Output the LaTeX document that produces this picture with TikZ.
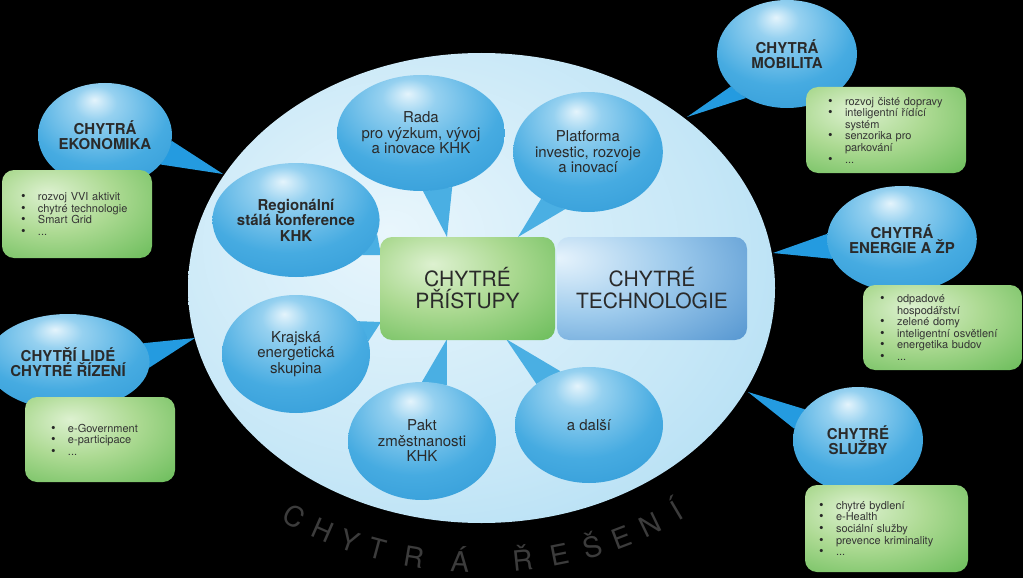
\documentclass[tikz,border=0pt]{standalone}
\usepackage{fontspec}
\setmainfont{TeX Gyre Heros}
\usetikzlibrary{shapes.geometric}
\pgfdeclarelayer{back}
\pgfdeclarelayer{tails}
\pgfsetlayers{back,tails,main}

\definecolor{bubA}{HTML}{E4F4FC}
\definecolor{bubB}{HTML}{96D1F0}
\definecolor{bubC}{HTML}{46ABE1}
\definecolor{bubD}{HTML}{2994D3}
\definecolor{bigA}{HTML}{E9F6FC}
\definecolor{bigB}{HTML}{C6E7F7}
\definecolor{bigC}{HTML}{9AD3EF}
\definecolor{grA}{HTML}{DDF1D0}
\definecolor{grB}{HTML}{ADDA93}
\definecolor{grC}{HTML}{69BC59}
\definecolor{grD}{HTML}{45A643}
\definecolor{blA}{HTML}{E6F3FC}
\definecolor{blB}{HTML}{9DCAEC}
\definecolor{blC}{HTML}{4A8ECC}
\definecolor{blD}{HTML}{2A6BB2}
\definecolor{tailA}{HTML}{249BE0}
\definecolor{tailB}{HTML}{4AAFE3}
\definecolor{txt}{HTML}{2A2A2A}
\definecolor{itx}{HTML}{353535}
\definecolor{lettc}{HTML}{3C3C3C}

\pgfdeclareradialshading{bubbleshade}{\pgfpoint{-4bp}{17bp}}{color(0bp)=(bubA); color(8bp)=(bubB); color(26bp)=(bubC); color(50bp)=(bubD); color(80bp)=(bubD)}
\pgfdeclareradialshading{bigshade}{\pgfpoint{-8bp}{6bp}}{color(0bp)=(bigA); color(25bp)=(bigB); color(50bp)=(bigC); color(80bp)=(bigC)}
\pgfdeclareradialshading{greenshade}{\pgfpoint{-10bp}{12bp}}{color(0bp)=(grA); color(20bp)=(grB); color(45bp)=(grC); color(62bp)=(grD); color(100bp)=(grD)}
\pgfdeclareradialshading{blueshade}{\pgfpoint{-25bp}{15bp}}{color(0bp)=(blA); color(25bp)=(blB); color(55bp)=(blC); color(75bp)=(blD); color(110bp)=(blD)}

\newcommand\bulletdot{{\fontsize{13}{11}\selectfont\textcolor{black!85}{\textbullet}}}
\newcommand\itemline[1]{\makebox[17pt][l]{\bulletdot}#1}
\newcommand\contline[1]{\hspace*{17pt}#1}

\begin{document}
\begin{tikzpicture}[x=1pt,y=-1pt,
  bub/.style={ellipse, shading=bubbleshade, inner sep=0pt, align=center, text=txt},
  outerbub/.style={bub, font=\fontsize{15}{15}\selectfont\bfseries},
  innerbub/.style={bub, minimum width=148, minimum height=116, font=\fontsize{15}{15.5}\selectfont},
  itembox/.style={rectangle, rounded corners=12pt, shading=greenshade, align=left, inner ysep=0pt, text=itx, font=\fontsize{11}{11.6}\selectfont},
  tailout/.style={fill=tailA},
  tailin/.style={fill=tailB},
  hub/.style={rectangle, rounded corners=12pt, inner sep=0pt, align=center, text=txt, minimum height=103, font=\fontsize{21}{22}\selectfont},
  letter/.style={text=lettc, font=\fontsize{28}{28}\selectfont, inner sep=0pt, anchor=base}
]
\useasboundingbox (0,0) rectangle (1023,578);
\begin{pgfonlayer}{back}
\fill[black] (0,0) rectangle (1023,578);
\node[ellipse, shading=bigshade, minimum width=587, minimum height=470, inner sep=0pt] (sol) at (481.5,288) {};
\end{pgfonlayer}

% outer bubbles
\node[outerbub, minimum width=134, minimum height=104] (eko) at (105,135) {CHYTRÁ\\EKONOMIKA};
\node[outerbub, minimum width=134, minimum height=96] (lide) at (68,362) {CHYTŘÍ LIDÉ\\CHYTRÉ ŘÍZENÍ};
\node[outerbub, minimum width=140, minimum height=108] (mob) at (787,54) {CHYTRÁ\\MOBILITA};
\node[outerbub, minimum width=138, minimum height=106] (ene) at (902,239) {CHYTRÁ\\ENERGIE A ŽP};
\node[outerbub, minimum width=130, minimum height=106] (sluz) at (858,440) {CHYTRÉ\\SLUŽBY};

% item boxes
\node[itembox, text width=112, inner xsep=19, minimum height=88] (ekoList) at (77,214)
 {\itemline{rozvoj VVI aktivit}\\\itemline{chytré technologie}\\\itemline{Smart Grid}\\\itemline{...}};
\node[itembox, text width=98, inner xsep=26, minimum height=85] (lideList) at (100,439.5)
 {\itemline{e-Government}\\\itemline{e-participace}\\\itemline{...}};
\node[itembox, text width=116, inner xsep=22, minimum height=86] (mobList) at (886,130)
 {\itemline{rozvoj čisté dopravy}\\\itemline{inteligentní řídící}\\\contline{systém}\\\itemline{senzorika pro}\\\contline{parkování}\\\itemline{...}};
\node[itembox, text width=125, inner xsep=17, minimum height=85] (eneList) at (942.5,327.5)
 {\itemline{odpadové}\\\contline{hospodářství}\\\itemline{zelené domy}\\\itemline{inteligentní osvětlení}\\\itemline{energetika budov}\\\itemline{...}};
\node[itembox, text width=135, inner xsep=14, minimum height=87] (sluzList) at (886.5,528.5)
 {\itemline{chytré bydlení}\\\itemline{e-Health}\\\itemline{sociální služby}\\\itemline{prevence kriminality}\\\itemline{...}};

% inner bubbles
\node[innerbub, minimum width=144] (rada) at (421,133) {Rada\\pro výzkum, vývoj\\a inovace KHK};
\node[innerbub, minimum width=146, minimum height=120] (plat) at (588,152) {Platforma\\investic, rozvoje\\a inovací};
\node[innerbub, minimum height=114, font=\fontsize{15}{15.5}\selectfont\bfseries] (reg) at (296,220) {Regionální\\stálá konference\\KHK};
\node[innerbub, minimum height=118] (kraj) at (296,354) {Krajská\\energetická\\skupina};
\node[innerbub, minimum height=118] (pakt) at (422,441) {Pakt\\změstnanosti\\KHK};
\node[innerbub] (dalsi) at (589,425) {a další};

% hub boxes
\node[hub, shading=greenshade, minimum width=175] (pristupy) at (467.5,288.5) {CHYTRÉ\\PŘÍSTUPY};
\node[hub, shading=blueshade, minimum width=190] (tech) at (652,288.5) {CHYTRÉ\\TECHNOLOGIE};

% tail tips
\coordinate (ekoTip) at (223,174);
\coordinate (lideTip) at (195,338);
\coordinate (mobTip) at (687,117);
\coordinate (eneTip) at (773,253);
\coordinate (sluzTip) at (748,392);
\coordinate (radaTip) at (447,237);
\coordinate (platTip) at (518,237);
\coordinate (regTip) at (381,255);
\coordinate (krajTip) at (381,322);
\coordinate (paktTip) at (447,339);
\coordinate (dalsiTip) at (506,339);

\begin{pgfonlayer}{tails}
\fill[tailout] (eko.-5) -- (ekoTip) -- (eko.-28) -- cycle;
\fill[tailout] (lide.14) -- (lideTip) -- (lide.-4) -- cycle;
\fill[tailout] (mob.-150) -- (mobTip) -- (mob.-133) -- cycle;
\fill[tailout] (ene.176) -- (eneTip) -- (ene.196) -- cycle;
\fill[tailout] (sluz.150) -- (sluzTip) -- (sluz.170) -- cycle;
\fill[tailin] (rada.-88) -- (radaTip) -- (rada.-60) -- cycle;
\fill[tailin] (plat.-135) -- (platTip) -- (plat.-112) -- cycle;
\fill[tailin] (reg.-28) -- (regTip) -- (reg.-10) -- cycle;
\fill[tailin] (kraj.28) -- (krajTip) -- (kraj.10) -- cycle;
\fill[tailin] (pakt.90) -- (paktTip) -- (pakt.66) -- cycle;
\fill[tailin] (dalsi.142) -- (dalsiTip) -- (dalsi.118) -- cycle;
\end{pgfonlayer}

% arc text
\foreach \ch/\t [count=\i] in {C/123.7, H/118.0, Y/112.9, T/107.9, R/101.4, Á/93.6, Ř/82.9, E/76.5, Š/70.7, E/65.2, N/59.7, Í/54.4}
  \node[letter, rotate={atan2(285*cos(\t),345*sin(\t))}] (let\i) at ({481+345*cos(\t)},{288+285*sin(\t)}) {\ch};
\end{tikzpicture}
\end{document}
